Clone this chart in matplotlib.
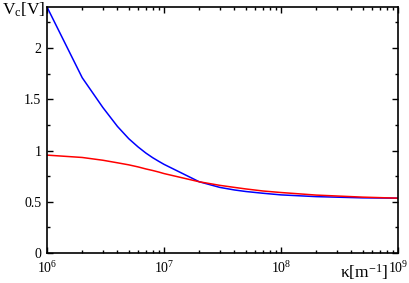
import matplotlib
matplotlib.use("Agg")
import matplotlib.pyplot as plt
from matplotlib.ticker import LogLocator, MultipleLocator, FixedLocator, NullFormatter

plt.rcParams['font.family'] = ['Liberation Serif', 'DejaVu Serif']
plt.rcParams['mathtext.fontset'] = 'custom'
plt.rcParams['mathtext.rm'] = 'Liberation Serif'
plt.rcParams['mathtext.it'] = 'Liberation Serif:italic'

kappa = [1e6, 2e6, 3e6, 4e6, 5e6, 6e6, 7e6, 8e6, 9e6, 1e7, 2e7, 3e7, 4e7, 5e7, 7e7, 1e8, 2e8, 5e8, 1e9]
v_blue = [2.40, 1.71, 1.42, 1.235, 1.115, 1.035, 0.975, 0.93, 0.895, 0.865, 0.695, 0.64, 0.615, 0.60, 0.583, 0.567, 0.55, 0.538, 0.535]
v_red = [0.955, 0.932, 0.905, 0.88, 0.86, 0.84, 0.82, 0.805, 0.79, 0.775, 0.695, 0.66, 0.64, 0.625, 0.605, 0.59, 0.565, 0.545, 0.535]
yticks = [0, 0.5, 1, 1.5, 2]
ytick_labels = ['0', '0.5', '1', '1.5', '2']
xticks = [1e6, 1e7, 1e8, 1e9]
xtick_labels = [r'$\mathrm{10}^{\mathrm{6}}$', r'$\mathrm{10}^{\mathrm{7}}$', r'$\mathrm{10}^{\mathrm{8}}$', r'$\mathrm{10}^{\mathrm{9}}$']

fig = plt.figure(figsize=(4.09, 2.83), dpi=100)
ax = fig.add_axes([47/409, 1-253/283, (398-47)/409, (253-7)/283])
ax.plot(kappa, v_blue, color='#0000ff', lw=1.1)
ax.plot(kappa, v_red, color='#ff0000', lw=1.1)
ax.set_xscale('log')
ax.set_xlim(1e6, 1e9)
ax.set_ylim(0, 2.4)
ax.set_yticks(yticks)
ax.set_yticklabels(ytick_labels)
ax.yaxis.set_minor_locator(MultipleLocator(0.25))
ax.xaxis.set_major_locator(FixedLocator(xticks))
ax.set_xticklabels(xtick_labels)
ax.xaxis.set_minor_locator(LogLocator(base=10, subs=range(2, 10)))
ax.xaxis.set_minor_formatter(NullFormatter())
ax.tick_params(which='both', direction='in', top=True, right=True, labelsize=10, color='black')
ax.tick_params(which='major', length=4.3, width=1)
ax.tick_params(which='minor', length=2.5, width=1)
ax.tick_params(axis='x', pad=5)
ax.tick_params(axis='y', pad=4)
for s in ax.spines.values():
    s.set_linewidth(1.2)
fig.text(2/409, 1-15/283, r'V$_{\mathrm{c}}$[V]', fontsize=12.5, ha='left', va='baseline')
fig.text(388/409, 1-278/283, r'$\mathrm{\kappa}$[m$^{\mathrm{-1}}$]', fontsize=12.5, ha='right', va='baseline')
fig.savefig('out.png', dpi=100)
